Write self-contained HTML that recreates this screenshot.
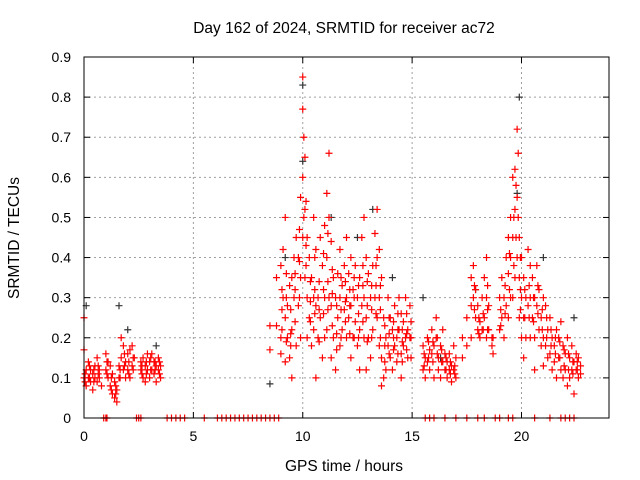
<!DOCTYPE html>
<html><head><meta charset="utf-8"><style>
body{margin:0;background:#fff;}
svg{display:block;font-family:"Liberation Sans",sans-serif;}
</style></head><body>
<svg id="chart" width="640" height="480">
<text x="344" y="33" text-anchor="middle" font-size="15.5" fill="#000">Day 162 of 2024, SRMTID for receiver ac72</text>
<text x="344" y="471" text-anchor="middle" font-size="15.5" fill="#000">GPS time / hours</text>
<text transform="translate(19,238) rotate(-90)" text-anchor="middle" font-size="15.5" fill="#000">SRMTID / TECUs</text>
<g id="grid"></g>
<g id="ticks"></g>
<g id="black"></g>
<g id="red"></g>
<rect x="84" y="57" width="525" height="361" fill="none" stroke="#000" stroke-width="1"/>
</svg>
<script>
const xTicks=[0,5,10,15,20];
const yTicks=[0,0.1,0.2,0.3,0.4,0.5,0.6,0.7,0.8,0.9];
const yTickLabels=["0","0.1","0.2","0.3","0.4","0.5","0.6","0.7","0.8","0.9"];
const redTimes=[0.0,0.1,0.2,0.3,0.4,0.5,0.6,0.7,0.8,1.0,1.1,1.2,1.3,1.4,1.5,1.6,1.7,1.8,1.9,2.0,2.1,2.2,2.3,2.6,2.7,2.8,2.9,3.0,3.1,3.2,3.3,3.4,3.5,
8.5,8.8,9.0,9.1,9.2,9.3,9.4,9.5,9.6,9.7,9.8,9.9,10.0,10.05,10.1,10.2,10.3,10.4,10.5,10.6,10.7,10.8,10.9,11.0,11.1,11.2,11.3,11.4,11.5,11.6,11.7,11.8,11.9,12.0,12.1,12.2,12.3,12.4,12.5,12.6,12.7,12.8,12.9,13.0,13.1,13.2,13.3,13.4,13.5,13.6,13.7,13.8,13.9,14.0,14.1,14.2,14.3,14.4,14.5,14.6,14.7,14.8,14.9,
15.5,15.6,15.7,15.8,15.9,16.0,16.1,16.2,16.3,16.4,16.5,16.6,16.7,16.8,16.9,17.0,
17.3,17.5,17.7,17.8,17.9,18.0,18.1,18.2,18.3,18.4,18.5,18.7,19.0,19.1,19.2,19.3,19.4,19.5,19.6,19.7,19.8,19.85,19.9,20.0,20.1,20.2,20.3,20.4,20.5,20.6,20.7,20.8,20.9,21.0,21.1,21.2,21.3,21.4,21.5,21.6,21.7,21.8,21.9,22.0,22.1,22.2,22.3,22.4,22.5,22.6,22.7];
const redValues=[[0.25,0.1,0.17],[0.12,0.08],[0.1,0.14],[0.09,0.12],[0.11,0.07],[0.13,0.1],[0.15,0.09],[0.1,0.12],[0.08],[0.12,0.16],[0.1,0.14],[0.13,0.08],[0.11,0.06],[0.09,0.05],[0.07,0.04],[0.1,0.13],[0.15,0.2],[0.18,0.12],[0.14,0.1],[0.16,0.12],[0.17,0.1],[0.13,0.18],[0.15],[0.14,0.12],[0.1,0.15],[0.13,0.09],[0.12,0.16],[0.14,0.1],[0.16,0.12],[0.11,0.14],[0.13,0.09],[0.15,0.12],[0.1,0.13],
[0.23,0.17],[0.35,0.23],[0.38,0.2,0.16],[0.3,0.42],[0.5,0.25,0.14],[0.28,0.2],[0.33,0.15],[0.35,0.22,0.1],[0.3,0.4],[0.45,0.18],[0.4,0.28],[0.55,0.35,0.2],[0.85,0.77,0.6,0.45],[0.7,0.5],[0.65,0.52,0.35],[0.45,0.3,0.2],[0.4,0.25],[0.35,0.18],[0.5,0.3,0.22],[0.42,0.28,0.1],[0.3,0.2],[0.45,0.25],[0.38,0.15],[0.48,0.3,0.2],[0.56,0.4,0.22],[0.66,0.5,0.3],[0.44,0.28,0.15],[0.35,0.2],[0.3,0.12],[0.36,0.25],[0.42,0.3,0.18],[0.33,0.22],[0.38,0.27],[0.45,0.3,0.2],[0.36,0.25],[0.4,0.28,0.15],[0.32,0.2],[0.38,0.24],[0.3,0.18],[0.35,0.22,0.12],[0.45,0.28],[0.5,0.3,0.2],[0.4,0.25,0.12],[0.36,0.2],[0.3,0.15],[0.38,0.22],[0.46,0.3],[0.52,0.4,0.25],[0.42,0.3,0.18],[0.35,0.15,0.08],[0.25,0.1],[0.2,0.12],[0.3,0.18],[0.25,0.15],[0.22,0.12],[0.28,0.18],[0.2,0.14],[0.3,0.22],[0.26,0.16,0.1],[0.24,0.18],[0.3,0.2],[0.22,0.15],[0.28,0.2],
[0.18,0.12],[0.15,0.1],[0.2,0.14],[0.17,0.12],[0.22,0.16],[0.18,0.1],[0.25,0.2],[0.15,0.12],[0.18,0.1],[0.14,0.22],[0.12,0.16],[0.1,0.14],[0.16,0.12],[0.13,0.09],[0.12,0.18],[0.15,0.1],
[0.2,0.15],[0.25,0.18],[0.35,0.28,0.2],[0.38,0.3],[0.32,0.25],[0.28,0.22],[0.24,0.2],[0.3,0.22],[0.35,0.25],[0.4,0.3,0.2],[0.28,0.22],[0.16,0.2],[0.22,0.3],[0.25,0.35],[0.3,0.2],[0.4,0.28],[0.45,0.36,0.25],[0.5,0.4,0.3],[0.6,0.45,0.3],[0.62,0.52,0.35],[0.72,0.55,0.4],[0.66,0.5],[0.45,0.35,0.25],[0.4,0.3,0.2],[0.35,0.25,0.15],[0.3,0.2],[0.42,0.28],[0.38,0.3,0.2],[0.35,0.25],[0.3,0.2,0.12],[0.38,0.28],[0.32,0.22],[0.25,0.18],[0.3,0.2,0.13],[0.28,0.18],[0.22,0.15],[0.25,0.16],[0.2,0.12],[0.18,0.14],[0.22,0.1],[0.2,0.15],[0.24,0.12],[0.18,0.1],[0.16,0.12],[0.2,0.08],[0.15,0.1],[0.18,0.12],[0.14,0.06],[0.12,0.16],[0.15,0.1],[0.13,0.11]];
const redTimes2=[0.05,0.25,0.45,0.65,1.05,1.25,1.45,1.65,1.85,2.05,2.25,2.65,2.85,3.05,3.25,3.45,
9.05,9.25,9.45,9.65,9.85,10.15,10.35,10.55,10.75,10.95,11.15,11.35,11.55,11.75,11.95,12.15,12.35,12.55,12.75,12.95,13.15,13.35,13.55,13.75,13.95,14.15,14.35,14.55,14.75,14.95,
15.55,15.75,15.95,16.15,16.35,16.55,16.75,16.95,
17.85,18.05,18.25,18.45,18.65,19.05,19.25,19.45,19.65,19.75,19.95,20.15,20.35,20.55,20.75,20.95,21.15,21.35,21.55,21.75,21.95,22.15,22.35,22.55];
const redValues2=[[0.11,0.09],[0.13,0.1],[0.12,0.09],[0.11,0.13],[0.14,0.11],[0.1,0.07],[0.08,0.06],[0.12,0.1],[0.16,0.13],[0.14,0.11],[0.15,0.12],[0.13,0.11],[0.11,0.14],[0.12,0.15],[0.14,0.12],[0.11,0.14],
[0.32,0.27,0.22],[0.36,0.3,0.19],[0.27,0.21,0.18],[0.36,0.32,0.24],[0.47,0.39,0.3],[0.54,0.43,0.38],[0.34,0.29,0.24],[0.4,0.32,0.26],[0.34,0.27,0.19],[0.41,0.32,0.26],[0.46,0.34,0.27],[0.37,0.31,0.23],[0.28,0.21,0.17],[0.35,0.27,0.2],[0.34,0.29,0.24],[0.32,0.28,0.21],[0.35,0.3,0.2],[0.33,0.26,0.2],[0.38,0.33,0.24],[0.34,0.28,0.19],[0.33,0.27,0.2],[0.38,0.33,0.26],[0.33,0.27,0.2],[0.23,0.18,0.14],[0.25,0.21,0.16],[0.24,0.2,0.17],[0.26,0.22,0.16],[0.22,0.19,0.14],[0.26,0.21,0.17],[0.24,0.2,0.15],
[0.16,0.13],[0.19,0.15],[0.19,0.14],[0.2,0.16],[0.17,0.14],[0.15,0.12],[0.14,0.11],[0.13,0.11],
[0.33,0.27],[0.25,0.21],[0.26,0.22],[0.33,0.27,0.22],[0.2,0.18],[0.27,0.23],[0.33,0.26],[0.41,0.32],[0.5,0.38],[0.58,0.45],[0.4,0.32,0.27],[0.32,0.25],[0.33,0.25],[0.3,0.24],[0.33,0.26],[0.27,0.22],[0.25,0.2],[0.22,0.18],[0.2,0.16],[0.19,0.15],[0.17,0.13],[0.16,0.12],[0.14,0.11],[0.14,0.12]];
const zeroTimes=[0.9,1.0,1.05,2.4,2.5,2.6,3.8,4.0,4.2,4.4,4.6,5.5,6.1,6.3,6.5,6.7,6.9,7.1,7.3,7.5,7.7,7.9,8.1,8.3,8.5,8.7,8.9,15.6,15.8,16.0,16.5,17.0,17.5,18.0,18.3,18.8,19.0,19.4,19.6,20.6,21.3,21.8,22.0,22.2,22.4];
const blackTimes=[0.1,1.6,3.3,8.5,9.2,10.0,10.0,11.3,13.2,14.1,15.5,19.9,19.8,21.0,22.4,12.5,17.9,2.0,16.3];
const blackValues=[0.28,0.28,0.18,0.085,0.4,0.83,0.64,0.5,0.52,0.35,0.3,0.8,0.56,0.4,0.25,0.45,0.32,0.22,0.15];

const X0=84,X1=609,Y0=418,Y1=57;
const sx=t=>X0+(t/24)*(X1-X0);
const sy=v=>Y0-(v/0.9)*(Y0-Y1);
const NS="http://www.w3.org/2000/svg";
function mk(tag,attrs,parent){const e=document.createElementNS(NS,tag);for(const k in attrs)e.setAttribute(k,attrs[k]);parent.appendChild(e);return e;}
const grid=document.getElementById('grid'),ticks=document.getElementById('ticks');
xTicks.forEach(t=>{const x=sx(t);
 if(t>0){const l=mk('line',{x1:x,x2:x,y1:Y1,y2:Y0,stroke:'#a0a0a0','stroke-dasharray':'2,3'},grid);
 
 }
 mk('line',{x1:x,x2:x,y1:Y0,y2:Y0-6,stroke:'#000'},ticks);
 mk('line',{x1:x,x2:x,y1:Y1,y2:Y1+6,stroke:'#000'},ticks);
 const tx=mk('text',{x:x,y:Y0+23,'text-anchor':'middle','font-size':14},ticks);tx.textContent=t;
 
 
});
yTicks.forEach((v,i)=>{const y=sy(v);
 if(v>0&&v<0.9){const l=mk('line',{x1:X0,x2:X1,y1:y,y2:y,stroke:'#a0a0a0','stroke-dasharray':'2,3'},grid);
 
 }
 mk('line',{x1:X0,x2:X0+6,y1:y,y2:y,stroke:'#000'},ticks);
 mk('line',{x1:X1,x2:X1-6,y1:y,y2:y,stroke:'#000'},ticks);
 const tx=mk('text',{x:X0-13,y:y+5,'text-anchor':'end','font-size':14},ticks);tx.textContent=yTickLabels[i];
 
 
});
function cross(g,t,v,color,name){const x=sx(t),y=sy(v);
 const p=mk('path',{d:`M${x-3.5},${y}H${x+3.5}M${x},${y-3.5}V${y+3.5}`,stroke:color,'stroke-width':1.2,fill:'none'},g);
 
 }
const bg=document.getElementById('black'),rg=document.getElementById('red');
blackTimes.forEach((t,i)=>cross(bg,t,blackValues[i],'#333','black-point'));
redTimes.forEach((t,i)=>redValues[i].forEach(v=>cross(rg,t,v,'#ff0000','red-point')));
redTimes2.forEach((t,i)=>redValues2[i].forEach(v=>cross(rg,t,v,'#ff0000','red-point')));
zeroTimes.forEach(t=>cross(rg,t,0,'#ff0000','zero-point'));
</script>
</body></html>
